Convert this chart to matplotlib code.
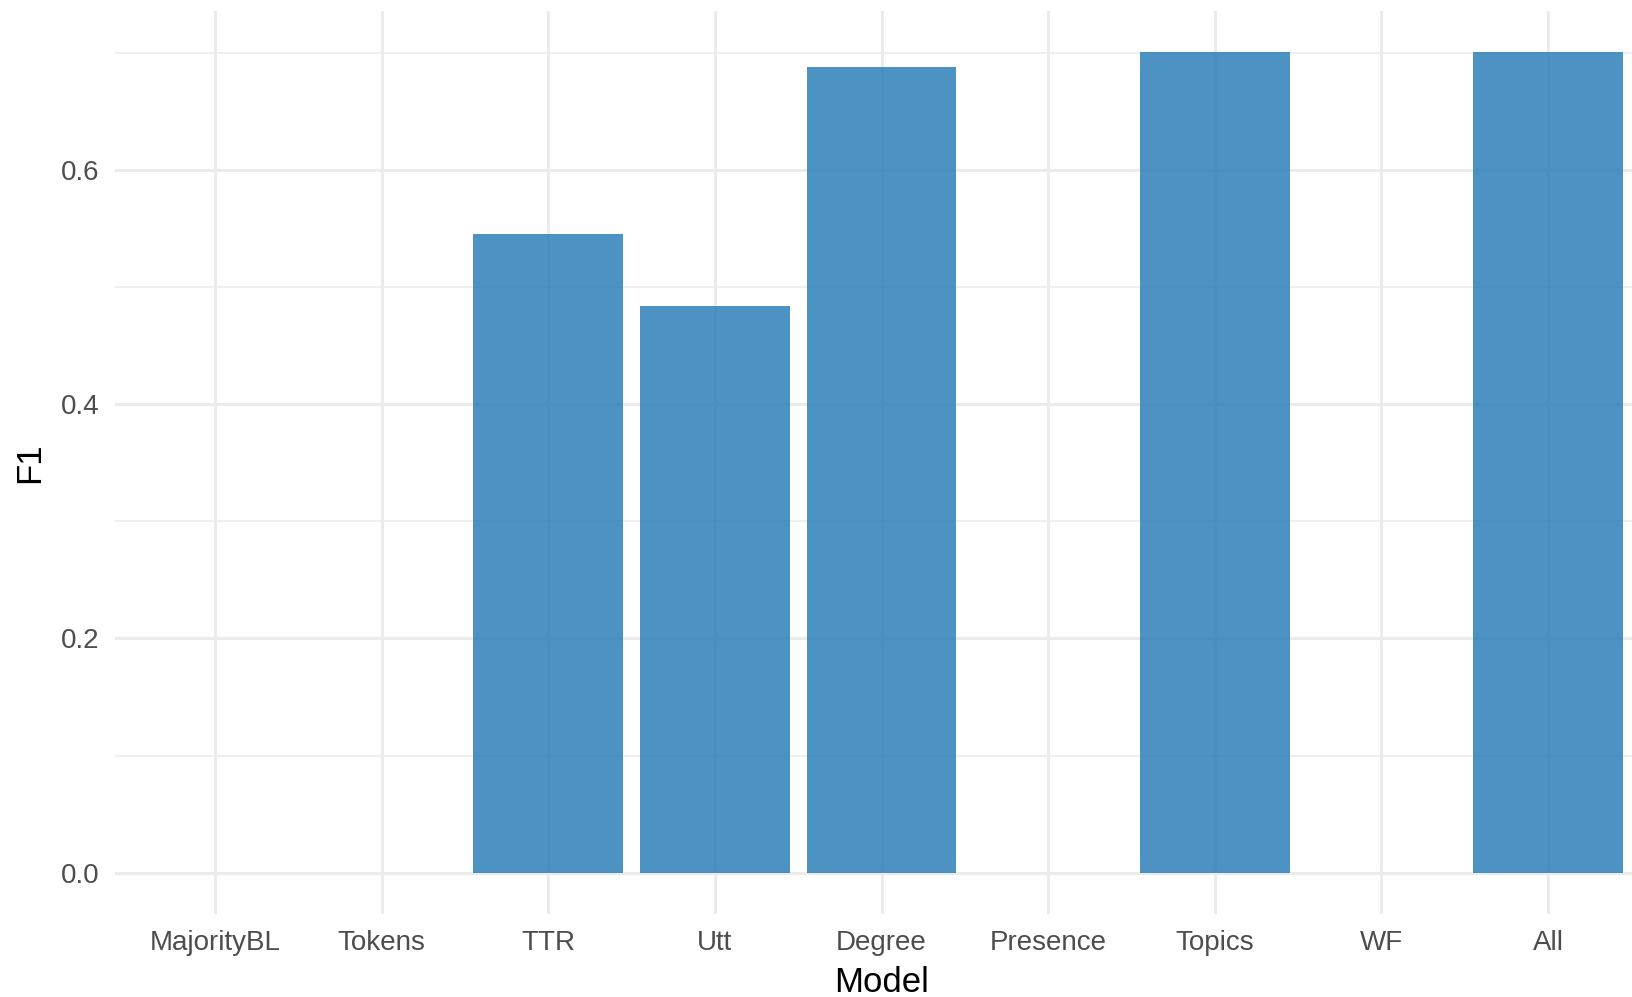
import matplotlib
matplotlib.use("Agg")
import matplotlib.pyplot as plt
import numpy as np

models = ["MajorityBL", "Tokens", "TTR", "Utt", "Degree", "Presence", "Topics", "WF", "All"]
f1 = [0.0, 0.0, 0.5456, 0.484, 0.6883, 0.0, 0.701, 0.0, 0.701]
major_ticks = [0.0, 0.2, 0.4, 0.6]
major_labels = ["0.0", "0.2", "0.4", "0.6"]
minor_ticks = [0.1, 0.3, 0.5, 0.7]

plt.rcParams['font.family'] = ['Liberation Sans', 'DejaVu Sans']

W, H = 1632, 997
fig = plt.figure(figsize=(W / 100, H / 100), dpi=100)
left, right, top, bottom = 115, 1648, 10.6, 913.8
ax = fig.add_axes([left / W, (H - bottom) / H, (right - left) / W, (bottom - top) / H])

x = np.arange(1, len(models) + 1)
ax.bar(x, f1, width=0.9, color="#1f77b4", alpha=0.8, linewidth=0, zorder=3)

ymax = max(f1)
ax.set_ylim(-0.05 * ymax, 1.05 * ymax)
ax.set_xlim(0.4, len(models) + 0.6)

ax.set_xticks(x)
ax.set_xticklabels(models)
ax.set_yticks(major_ticks)
ax.set_yticklabels(major_labels)
ax.set_yticks(minor_ticks, minor=True)

for s in ax.spines.values():
    s.set_visible(False)

ax.grid(True, which="major", axis="both", color="#EBEBEB", linewidth=2.2, zorder=0)
ax.grid(True, which="minor", axis="y", color="#EBEBEB", linewidth=1.1, zorder=0)
ax.set_axisbelow(True)

ax.tick_params(axis="both", which="both", length=0)
ax.tick_params(axis="x", labelsize=20, labelcolor="#4D4D4D", pad=12)
ax.tick_params(axis="y", labelsize=20, labelcolor="#4D4D4D", pad=11)

ax.set_xlabel("Model", fontsize=25, color="black", labelpad=7)
ax.set_ylabel("F1", fontsize=25, color="black", labelpad=11)

fig.savefig("out.png", dpi=100)
